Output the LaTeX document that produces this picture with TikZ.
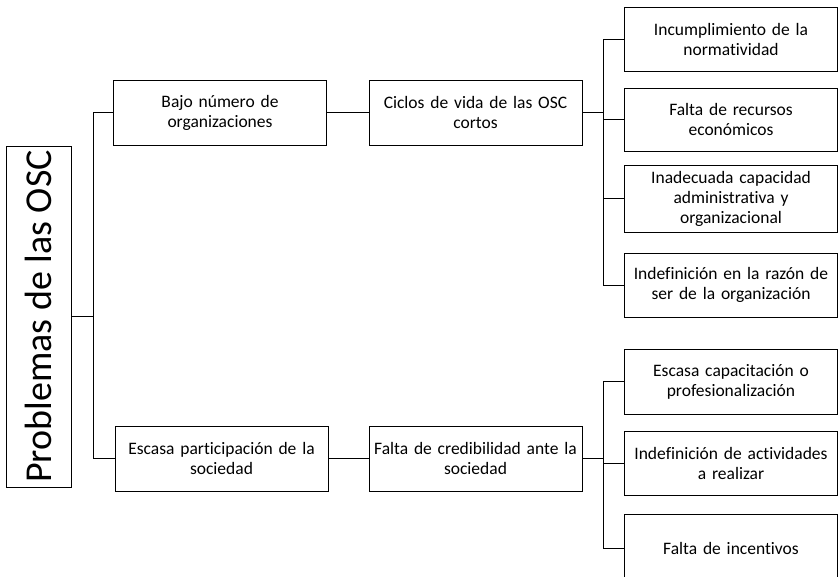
\documentclass[tikz,border=0pt]{standalone}
\usepackage{fontspec}
\setmainfont{Carlito}[Ligatures=NoCommon]
\hyphenpenalty=10000
\tikzset{
  box/.style={draw, line width=1pt, minimum width=213pt, minimum height=65pt,
    text width=211pt, inner sep=1pt, align=center,
    font=\fontsize{17.5pt}{20pt}\selectfont},
  rootbox/.style={draw, line width=1pt, inner sep=0pt, rotate=90,
    font=\fontsize{38pt}{40pt}\selectfont},
  link/.style={line width=1pt}
}
\begin{document}
\begin{tikzpicture}[x=1pt, y=-1pt]
    \clip (0,0) rectangle (838,576) ;
    % root
    \node [rootbox, minimum width=341pt, minimum height=65pt] (root) at (38.5,316.5) {Problemas de las OSC} ;
    % second level
    \node [box] (bajo) at (220,112.5) {Bajo número de\\organizaciones} ;
    \node [box] (escasa) at (221.5,458.5) {Escasa participación de la\\sociedad} ;
    % third level
    \node [box] (ciclos) at (475.5,112.5) {Ciclos de vida de las OSC\\cortos} ;
    \node [box] (credib) at (475.5,458.5) {Falta de credibilidad ante la\\sociedad} ;
    % causes
    \node [box, minimum height=64pt] (incump) at (731,39) {Incumplimiento de la\\normatividad} ;
    \node [box, minimum height=63pt] (recursos) at (731,119.5) {Falta de recursos\\económicos} ;
    \node [box, minimum height=67pt] (inadec) at (731,198.5) {Inadecuada capacidad\\administrativa y\\organizacional} ;
    \node [box, minimum height=64pt] (razon) at (731,285) {Indefinición en la razón de\\ser de la organización} ;
    \node [box] (capacit) at (731,381.5) {Escasa capacitación o\\profesionalización} ;
    \node [box, minimum height=64pt] (activ) at (731,463) {Indefinición de actividades\\a realizar} ;
    \node [box, minimum height=68pt] (incent) at (731,548) {Falta de incentivos} ;

    % connectors
    \draw [link] (root.south) -- ++(22,0) coordinate (ja) ;
    \draw [link] (bajo.west) -| (ja) ;
    \draw [link] (escasa.west) -| (ja) ;
    \draw [link] (bajo) -- (ciclos) ;
    \draw [link] (escasa) -- (credib) ;
    \draw [link] (ciclos.east) -- ++(21,0) coordinate (jb) ;
    \foreach \n in {incump,recursos,inadec,razon}
        \draw [link] (\n.west) -| (jb) ;
    \draw [link] (credib.east) -- ++(21,0) coordinate (jc) ;
    \foreach \n in {capacit,activ,incent}
        \draw [link] (\n.west) -| (jc) ;
\end{tikzpicture}
\end{document}
